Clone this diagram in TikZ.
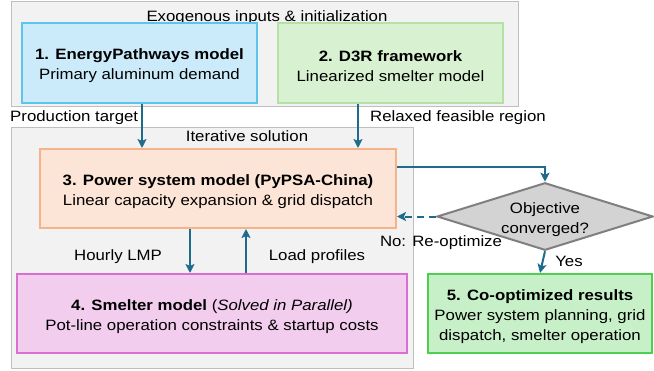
\documentclass[tikz,border=0pt]{standalone}
\usepackage{fontspec}
\setmainfont{Liberation Sans}[FakeStretch=1.12]
\usetikzlibrary{shapes.geometric,arrows.meta}
\definecolor{arrc}{HTML}{1F6B8B}
\definecolor{grayfill}{HTML}{F2F2F2}
\definecolor{grayline}{HTML}{BFBFBF}
\definecolor{bAfill}{HTML}{CCEBFA}
\definecolor{bAline}{HTML}{5BC5EE}
\definecolor{bBfill}{HTML}{D8F1D0}
\definecolor{bBline}{HTML}{B3E2A6}
\definecolor{bCfill}{HTML}{FCE4D6}
\definecolor{bCline}{HTML}{F5B38A}
\definecolor{bDfill}{HTML}{F2CDEE}
\definecolor{bDline}{HTML}{D970D1}
\definecolor{bEfill}{HTML}{C8F0C8}
\definecolor{bEline}{HTML}{4DCF50}
\definecolor{dfill}{HTML}{D3D3D3}
\definecolor{dline}{HTML}{7F7F7F}
\newcommand{\tstrut}{\rule{0pt}{17pt}}
\begin{document}
\begin{tikzpicture}[x=1pt,y=-1pt,
  every node/.style={font=\fontsize{15}{20}\selectfont},
  group/.style={draw=grayline,fill=grayfill,line width=1pt,inner sep=0pt},
  box/.style={line width=2pt,inner sep=0pt,align=center},
  arr/.style={draw=arrc,line width=2pt,-{Stealth[length=9pt,width=9pt,inset=2pt]}},
  lbl/.style={inner sep=0pt}]
\useasboundingbox (0,0) rectangle (654,370);
% groups
\node[group,minimum width=507pt,minimum height=105pt] (gA) at (264.5,53.5) {};
\node[group,minimum width=402pt,minimum height=241pt] (gB) at (212,247.5) {};
\node[lbl,anchor=base] (tA) at (267,21.3) {Exogenous inputs \& initialization};
\node[lbl,anchor=base] (tB) at (247,141.5) {Iterative solution};
% boxes
\node[box,draw=bAline,fill=bAfill,minimum width=235pt,minimum height=80pt] (b1) at (139.5,63)
  {\tstrut\textbf{1. EnergyPathways model}\\Primary aluminum demand};
\node[box,draw=bBline,fill=bBfill,minimum width=225pt,minimum height=80pt] (b2) at (390.5,63)
  {\tstrut\textbf{2. D3R framework}\\Linearized smelter model};
\node[box,draw=bCline,fill=bCfill,minimum width=356pt,minimum height=79pt] (b3) at (218,188.5)
  {\tstrut\textbf{3. Power system model (PyPSA-China)}\\Linear capacity expansion \& grid dispatch};
\node[box,draw=bDline,fill=bDfill,minimum width=390pt,minimum height=79pt] (b4) at (212,313.5)
  {\tstrut\textbf{4. Smelter model} (\textit{Solved in Parallel)}\\Pot-line operation constraints \& startup costs};
\node[box,draw=bEline,fill=bEfill,minimum width=224pt,minimum height=79pt] (b5) at (540,313.5)
  {\tstrut\textbf{5. Co-optimized results}\\Power system planning, grid\\dispatch, smelter operation};
\node[diamond,draw=dline,fill=dfill,line width=2pt,inner sep=0pt,aspect=3.2,
  minimum width=216pt,minimum height=67pt,align=center] (d) at (545,216.5)
  {\tstrut Objective\\converged?};
% labels
\node[lbl,anchor=base west] (lp) at (10,121) {Production target};
\node[lbl,anchor=base west] (lr) at (370,121) {Relaxed feasible region};
\node[lbl,anchor=base] (lh) at (118,260.7) {Hourly LMP};
\node[lbl,anchor=base] (ll) at (317,260.7) {Load profiles};
\node[lbl,anchor=base] (ln) at (441,246.7) {No: Re-optimize};
\node[lbl,anchor=base] (ly) at (569,266.7) {Yes};
% connectors
\draw[arr] ([xshift=2.5pt]b1.south) -- ([xshift=2.5pt]b1.south |- b3.north);
\draw[arr] ([xshift=-32.5pt]b2.south) -- ([xshift=-32.5pt]b2.south |- b3.north);
\draw[arr] ([xshift=-28pt]b3.south) -- ([xshift=-28pt]b3.south |- b4.north);
\draw[arr] ([xshift=28pt]b3.south |- b4.north) -- ([xshift=28pt]b3.south);
\draw[arr] ([yshift=21.5pt]b3.east) -| (d.north);
\draw[arr,dash pattern=on 7pt off 5pt] (d.west) -- (d.west -| b3.east);
\draw[arr] (d.south) -- (b5.north);
\end{tikzpicture}
\end{document}
